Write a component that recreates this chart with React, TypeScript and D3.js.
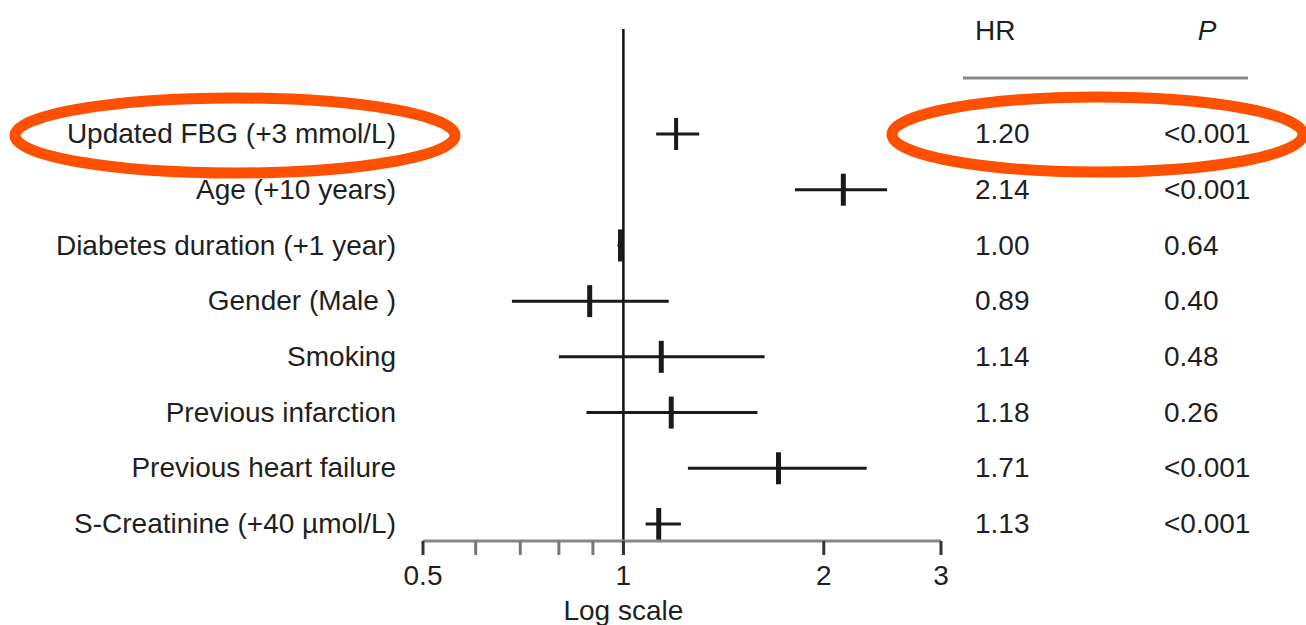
import React from "react";
import * as d3 from "d3";

// rows of the forest plot
const labels = [
  "Updated FBG (+3 mmol/L)",
  "Age (+10 years)",
  "Diabetes duration (+1 year)",
  "Gender (Male )",
  "Smoking",
  "Previous infarction",
  "Previous heart failure",
  "S-Creatinine (+40 µmol/L)",
];
const hr = [1.2, 2.14, 0.99, 0.89, 1.14, 1.18, 1.71, 1.13];
const lower = [1.12, 1.81, 0.98, 0.68, 0.8, 0.88, 1.25, 1.08];
const upper = [1.3, 2.49, 1.0, 1.17, 1.63, 1.59, 2.32, 1.22];
const hrText = ["1.20", "2.14", "1.00", "0.89", "1.14", "1.18", "1.71", "1.13"];
const pText = ["<0.001", "<0.001", "0.64", "0.40", "0.48", "0.26", "<0.001", "<0.001"];

const ticks = [0.5, 0.6, 0.7, 0.8, 0.9, 1, 2, 3];
const tickLabels = [0.5, 1, 2, 3];

const W = 1306;
const H = 625;
const font = "'Liberation Sans', Arial, Helvetica, sans-serif";
const ink = "#1f1f1f";
const orange = "#ff5000";

const App = () => {
  const x = d3.scaleLog().domain([0.5, 3]).range([423, 941]);
  const y = d3.scalePoint<string>().domain(labels).range([133, 523]);
  const axisY = 541;

  return (
    <svg
      width={W}
      height={H}
      viewBox={`0 0 ${W} ${H}`}
      style={{ position: "absolute", left: 0, top: 0, background: "#fff" }}
      fontFamily={font}
    >
      {/* reference line at HR = 1 */}
      <line x1={x(1)} x2={x(1)} y1={29} y2={555} stroke="#111" strokeWidth={2.5} />

      {/* rows */}
      {labels.map((d, i) => {
        const cy = (y(d) as number) + 1;
        return (
          <g key={d}>
            <text x={396} y={y(d)} dy="0.36em" textAnchor="end" fontSize={28} fill={ink}>
              {d}
            </text>
            <line x1={x(lower[i])} x2={x(upper[i])} y1={cy} y2={cy} stroke="#1a1a1a" strokeWidth={3} />
            <line
              x1={x(hr[i])}
              x2={x(hr[i])}
              y1={cy - 16}
              y2={cy + 16}
              stroke="#1a1a1a"
              strokeWidth={i === 0 ? 4 : 5}
            />
            <text x={975} y={y(d)} dy="0.36em" fontSize={28} fill={ink}>
              {hrText[i]}
            </text>
            <text x={1164} y={y(d)} dy="0.36em" fontSize={28} fill={ink}>
              {pText[i]}
            </text>
          </g>
        );
      })}

      {/* table header */}
      <text x={975} y={40} fontSize={28} fill={ink}>HR</text>
      <text x={1207} y={40} fontSize={28} fontStyle="italic" textAnchor="middle" fill={ink}>P</text>
      <line x1={963} x2={1248} y1={78} y2={78} stroke="#888" strokeWidth={3} />

      {/* x axis */}
      <line x1={x(0.5)} x2={x(3)} y1={axisY} y2={axisY} stroke="#888" strokeWidth={3} />
      {ticks.map((t) => (
        <line
          key={t}
          x1={x(t)}
          x2={x(t)}
          y1={axisY}
          y2={axisY + 14}
          stroke={tickLabels.includes(t) ? "#333" : "#777"}
          strokeWidth={3}
        />
      ))}
      {tickLabels.map((t) => (
        <text key={t} x={x(t)} y={585} textAnchor="middle" fontSize={28} fill={ink}>
          {t}
        </text>
      ))}
      <text x={x(1)} y={620} textAnchor="middle" fontSize={28} fill={ink}>
        Log scale
      </text>

      {/* highlight ellipses */}
      <ellipse cx={235} cy={135.5} rx={220} ry={37.5} fill="none" stroke={orange} strokeWidth={11} />
      <ellipse cx={1097.5} cy={134.5} rx={205.5} ry={37.5} fill="none" stroke={orange} strokeWidth={11} />
    </svg>
  );
};

export default App;
